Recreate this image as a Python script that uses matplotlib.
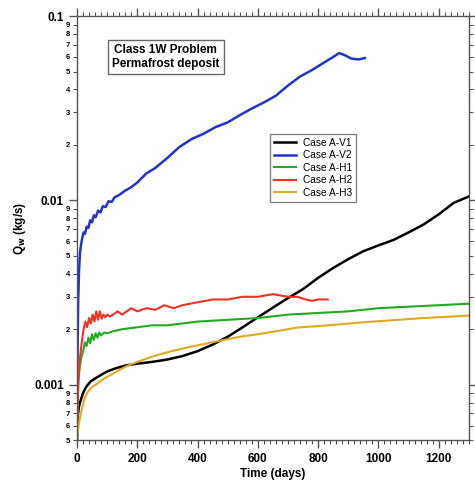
import numpy as np
import matplotlib.pyplot as plt
from matplotlib.ticker import LogLocator, FixedLocator, MultipleLocator, FuncFormatter

plt.rcParams['font.family'] = ['Liberation Sans', 'DejaVu Sans']

# Case A-V1
v1_days = [0, 3, 6, 10, 20, 30, 45, 60, 80, 100, 130, 160, 200, 250, 300, 350, 400, 450,
           500, 550, 600, 650, 700, 750, 800, 850, 900, 950, 1000, 1050, 1100, 1150, 1200,
           1250, 1300]
v1_q = [0.0005, 0.00068, 0.00075, 0.00080, 0.00090, 0.00097, 0.00104, 0.00108, 0.00113,
        0.00118, 0.00123, 0.00127, 0.0013, 0.00133, 0.00137, 0.00143, 0.00152, 0.00165,
        0.00182, 0.00205, 0.00232, 0.00262, 0.00295, 0.0033, 0.0038, 0.0043, 0.0048,
        0.0053, 0.0057, 0.0061, 0.0067, 0.0074, 0.0084, 0.0097, 0.0105]

# Case A-V2
v2_days = [0, 2, 4, 7, 10, 14, 18, 22, 27, 32, 38, 44, 50, 56, 62, 70, 78, 86, 95, 105,
           115, 125, 140, 160, 180, 200, 230, 260, 300, 340, 380, 420, 460, 500, 540, 580,
           620, 660, 700, 740, 780, 820, 850, 870, 890, 910, 935, 955]
v2_q = [0.0005, 0.0015, 0.0028, 0.0042, 0.0052, 0.0058, 0.0063, 0.0067, 0.0066, 0.0072,
        0.0071, 0.0078, 0.0076, 0.0083, 0.0081, 0.0088, 0.0086, 0.0093, 0.0092, 0.0099,
        0.0098, 0.0104, 0.0107, 0.0113, 0.0118, 0.0125, 0.0140, 0.0150, 0.0170, 0.0195,
        0.0215, 0.0230, 0.0250, 0.0265, 0.0290, 0.0315, 0.0340, 0.0370, 0.0420, 0.0470,
        0.0510, 0.0560, 0.0600, 0.0630, 0.0612, 0.0588, 0.0582, 0.0592]

# Case A-H1
h1_days = [0, 4, 8, 14, 20, 26, 32, 38, 44, 50, 56, 62, 68, 74, 80, 90, 100, 120, 150, 200,
           250, 300, 400, 500, 600, 700, 800, 900, 1000, 1100, 1200, 1300]
h1_q = [0.0005, 0.0010, 0.0012, 0.0014, 0.0015, 0.0017, 0.00162, 0.0018, 0.00168, 0.00188,
        0.00175, 0.0019, 0.0018, 0.00192, 0.00185, 0.00192, 0.0019, 0.00195, 0.0020, 0.00205,
        0.0021, 0.0021, 0.0022, 0.00225, 0.0023, 0.0024, 0.00245, 0.0025, 0.0026, 0.00265,
        0.0027, 0.00275]

# Case A-H2
h2_days = [0, 5, 10, 16, 22, 28, 34, 40, 46, 52, 58, 64, 70, 76, 82, 88, 94, 100, 110, 120,
           135, 150, 165, 180, 200, 230, 260, 290, 320, 350, 400, 450, 500, 550, 600, 650,
           700, 730, 760, 780, 800, 832]
h2_q = [0.0005, 0.0011, 0.0014, 0.0017, 0.0020, 0.0022, 0.00205, 0.0023, 0.00215, 0.0024,
        0.0022, 0.0025, 0.00225, 0.0025, 0.00228, 0.0024, 0.00232, 0.0024, 0.00235, 0.0024,
        0.0025, 0.0024, 0.0025, 0.0026, 0.0025, 0.0026, 0.00255, 0.0027, 0.0026, 0.0027,
        0.0028, 0.0029, 0.0029, 0.0030, 0.0030, 0.0031, 0.0030, 0.0030, 0.0029, 0.00285,
        0.0029, 0.0029]

# Case A-H3
h3_days = [0, 3, 6, 10, 15, 20, 26, 35, 50, 66, 90, 120, 160, 200, 250, 300, 364, 450, 540,
           620, 729, 850, 948, 1050, 1150, 1300]
h3_q = [0.0005, 0.00056, 0.00061, 0.00066, 0.00072, 0.00078, 0.00085, 0.00091, 0.00097,
        0.00101, 0.00108, 0.00115, 0.00125, 0.00133, 0.00142, 0.00150, 0.00159, 0.00170,
        0.00182, 0.0019, 0.00204, 0.00211, 0.00218, 0.00224, 0.0023, 0.00237]

fig = plt.figure(figsize=(4.75, 4.88), dpi=100)
ax = fig.add_axes([0.162, 0.098, 0.825, 0.869])

ax.plot(v1_days, v1_q, color='black', lw=1.8, label='Case A-V1')
ax.plot(v2_days, v2_q, color='#2233cc', lw=1.8, label='Case A-V2')
ax.plot(h1_days, h1_q, color='#22aa22', lw=1.5, label='Case A-H1')
ax.plot(h2_days, h2_q, color='#ee3322', lw=1.5, label='Case A-H2')
ax.plot(h3_days, h3_q, color='#ddaa22', lw=1.5, label='Case A-H3')

ax.set_yscale('log')
ax.set_xlim(0, 1300)
ax.set_ylim(0.0005, 0.1)

ax.xaxis.set_major_locator(MultipleLocator(200))
ax.xaxis.set_minor_locator(MultipleLocator(20))
ax.yaxis.set_major_locator(FixedLocator([0.001, 0.01, 0.1]))
ax.yaxis.set_major_formatter(FuncFormatter(lambda v, p: f'{v:g}'))
ax.yaxis.set_minor_locator(LogLocator(base=10, subs=np.arange(2, 10)))


def minor_fmt(v, p):
    m = v / 10 ** np.floor(np.log10(v) + 1e-9)
    return f'{int(round(m))}'


ax.yaxis.set_minor_formatter(FuncFormatter(minor_fmt))

ax.tick_params(which='both', direction='out', top=True, right=True, color='#555555')
ax.tick_params(which='major', length=6, width=1, labelsize=8.5)
ax.tick_params(which='minor', length=3, width=0.8, labelsize=5.5)
ax.tick_params(axis='y', which='minor', pad=2)
for lab in ax.get_xticklabels() + ax.get_yticklabels():
    lab.set_fontweight('bold')
for lab in ax.get_yticklabels(minor=True):
    lab.set_fontweight('bold')

for s in ax.spines.values():
    s.set_color('#555555')
    s.set_linewidth(1.0)

ax.set_xlabel('Time (days)', fontsize=8.5, fontweight='bold', labelpad=2)
ax.set_ylabel(r'Q$_\mathbf{w}$ (kg/s)', fontsize=8.5, fontweight='bold', labelpad=4)

ax.text(0.227, 0.903, 'Class 1W Problem\nPermafrost deposit', transform=ax.transAxes,
        ha='center', va='center', fontsize=8.5, fontweight='bold', linespacing=1.2,
        bbox=dict(boxstyle='square,pad=0.35', fc='white', ec='#666666', lw=1))

leg = ax.legend(loc='upper left', bbox_to_anchor=(0.48, 0.735), fontsize=7.3,
                frameon=True, fancybox=False, edgecolor='#666666', handlelength=2.2,
                borderpad=0.4, labelspacing=0.25, handletextpad=0.6)
leg.get_frame().set_linewidth(1.0)

fig.savefig('out.png', dpi=100)
